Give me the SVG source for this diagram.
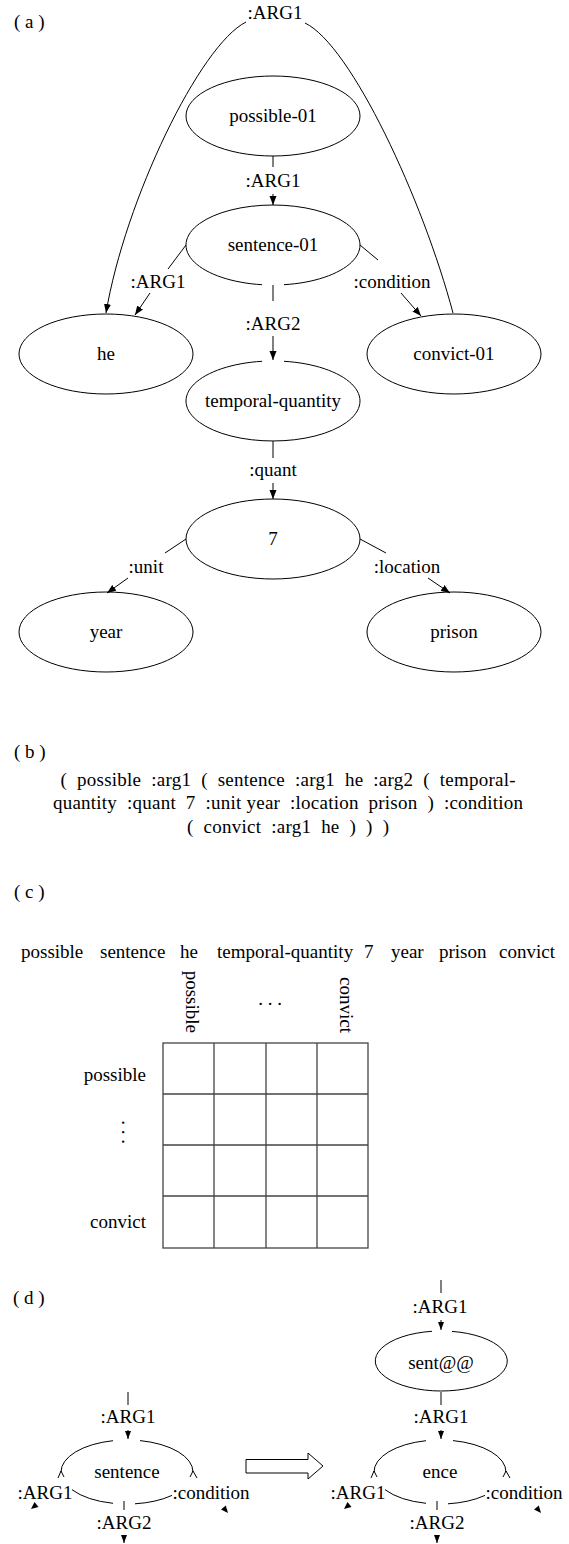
<svg xmlns="http://www.w3.org/2000/svg" width="569" height="1544" viewBox="0 0 569 1544" font-family="'Liberation Serif', serif">
<style>
text{font-family:"Liberation Serif","DejaVu Serif",serif;font-size:19px;fill:#000}
.m{text-anchor:middle}
.e{text-anchor:end}
.nd{fill:none;stroke:#000;stroke-width:1}
.ed{fill:none;stroke:#000;stroke-width:1}
.grid{fill:none;stroke:#444;stroke-width:1.3}
</style>
<defs>
<marker id="ah" markerWidth="10" markerHeight="8" refX="9" refY="4" orient="auto" markerUnits="userSpaceOnUse"><path d="M0,0.5 L9,4 L0,7.5 z" fill="#000"/></marker>
<marker id="as" markerWidth="9" markerHeight="7" refX="8" refY="3.5" orient="auto" markerUnits="userSpaceOnUse"><path d="M0,0.5 L8,3.5 L0,6.5 z" fill="#000"/></marker>
</defs>
<rect width="569" height="1544" fill="#fff"/>

<!-- (a) -->
<text x="14" y="28">( a )</text>
<g id="node-possible-01"><ellipse class="nd" cx="273" cy="116" rx="87" ry="40"/><text class="m" x="273" y="122">possible-01</text></g>
<g id="node-sentence-01"><path class="nd" d="M284,284.7 A87 40 0 1 0 262,284.7"/><text class="m" x="273" y="251">sentence-01</text></g>
<g id="node-he"><ellipse class="nd" cx="106" cy="354" rx="87" ry="40"/><text class="m" x="106" y="360">he</text></g>
<g id="node-convict-01"><ellipse class="nd" cx="454" cy="354" rx="87" ry="40"/><text class="m" x="454" y="360">convict-01</text></g>
<g id="node-temporal-quantity"><path class="nd" d="M284,361.3 A87 40 0 1 1 262,361.3"/><text class="m" x="273" y="407">temporal-quantity</text></g>
<g id="node-7"><ellipse class="nd" cx="273" cy="539" rx="87" ry="40"/><text class="m" x="273" y="545">7</text></g>
<g id="node-year"><ellipse class="nd" cx="106" cy="632" rx="87" ry="40"/><text class="m" x="106" y="638">year</text></g>
<g id="node-prison"><ellipse class="nd" cx="454" cy="632" rx="87" ry="40"/><text class="m" x="454" y="638">prison</text></g>

<g id="connectors-a">
<path class="ed" d="M246,22 C200,45 125,200 106,313" marker-end="url(#ah)"/>
<path class="ed" d="M453,313 C423,200 351,45 305,23"/>
<text class="m" x="275" y="19">:ARG1</text>
<line class="ed" x1="273" y1="156" x2="273" y2="167"/>
<text class="m" x="273" y="187">:ARG1</text>
<line class="ed" x1="273" y1="194" x2="273" y2="205" marker-end="url(#ah)"/>
<line class="ed" x1="186" y1="245" x2="168" y2="269"/>
<text class="m" x="158" y="288">:ARG1</text>
<line class="ed" x1="150" y1="293" x2="135" y2="315" marker-end="url(#ah)"/>
<line class="ed" x1="360" y1="245" x2="378" y2="260"/>
<text class="m" x="392" y="288">:condition</text>
<line class="ed" x1="401" y1="293" x2="421" y2="316" marker-end="url(#ah)"/>
<line class="ed" x1="273" y1="285" x2="273" y2="301"/>
<text class="m" x="273" y="330">:ARG2</text>
<line class="ed" x1="273" y1="336" x2="273" y2="360" marker-end="url(#ah)"/>
<line class="ed" x1="273" y1="441" x2="273" y2="458"/>
<text class="m" x="273" y="476">:quant</text>
<line class="ed" x1="273" y1="483" x2="273" y2="499" marker-end="url(#ah)"/>
<line class="ed" x1="186" y1="539" x2="165" y2="553"/>
<text class="m" x="146" y="573">:unit</text>
<line class="ed" x1="128" y1="578" x2="107" y2="593" marker-end="url(#ah)"/>
<line class="ed" x1="360" y1="539" x2="386" y2="553"/>
<text class="m" x="407" y="573">:location</text>
<line class="ed" x1="428" y1="578" x2="450" y2="593" marker-end="url(#ah)"/>
</g>

<!-- (b) -->
<g id="part-b">
<text x="14" y="758">( b )</text>
<text class="m" x="288" y="786" xml:space="preserve" textLength="455" lengthAdjust="spacing">(  possible  :arg1  (  sentence  :arg1  he  :arg2  (  temporal-</text>
<text class="m" x="288" y="809" xml:space="preserve" textLength="470" lengthAdjust="spacing">quantity  :quant  7  :unit year  :location  prison  )  :condition</text>
<text class="m" x="288" y="833" xml:space="preserve" textLength="202" lengthAdjust="spacing">(  convict  :arg1  he  )  )  )</text>
</g>

<!-- (c) -->
<g id="part-c">
<text x="14" y="898">( c )</text>
<text y="958"><tspan x="21">possible</tspan><tspan x="100">sentence</tspan><tspan x="180">he</tspan><tspan x="217">temporal-quantity</tspan><tspan x="364">7</tspan><tspan x="391">year</tspan><tspan x="439">prison</tspan><tspan x="499">convict</tspan></text>
<text class="e" transform="translate(186,1033) rotate(90)" x="0" y="0">possible</text>
<text class="e" transform="translate(340,1033) rotate(90)" x="0" y="0">convict</text>
<text class="m" x="270" y="1005">. . .</text>
<text class="m" transform="translate(122,1132) rotate(90)" x="0" y="0">. . .</text>
<rect class="grid" x="163" y="1043" width="205" height="205"/>
<path class="grid" d="M214,1043 V1248 M266,1043 V1248 M317,1043 V1248 M163,1094 H368 M163,1145 H368 M163,1196 H368"/>
<text class="e" x="146" y="1081">possible</text>
<text class="e" x="146" y="1228">convict</text>
</g>

<!-- (d) -->
<text x="13" y="1304">( d )</text>
<g id="node-sentence-d">
<path class="nd" d="M61,1472 A66 32 0 0 1 113,1440.7 M140,1440.6 A66 32 0 0 1 193,1472 M72,1489.7 A66 32 0 0 0 113,1503.3 M135,1503.8 A66 32 0 0 0 172,1495.4"/>
<path class="nd" d="M58,1478 L61,1471 L64,1477 M190,1477 L193,1471 L197,1478"/>
<text class="m" x="127" y="1478">sentence</text>
</g>
<g id="node-sent-at">
<path class="nd" d="M452,1331.4 A66 30 0 1 1 432,1331.3"/>
<text class="m" x="441" y="1369">sent@@</text>
</g>
<g id="node-ence" transform="translate(313,0)">
<path class="nd" d="M61,1472 A66 32 0 0 1 113,1440.7 M140,1440.6 A66 32 0 0 1 193,1472 M72,1489.7 A66 32 0 0 0 113,1503.3 M135,1503.8 A66 32 0 0 0 172,1495.4"/>
<path class="nd" d="M58,1478 L61,1471 L64,1477 M190,1477 L193,1471 L197,1478"/>
<text class="m" x="127" y="1478">ence</text>
</g>
<g id="arrow-d">
<path d="M246,1459.5 L308,1459.5 L308,1453 L323,1466 L308,1479 L308,1473 L246,1473 Z" fill="#fff" stroke="#000" stroke-width="1"/>
</g>
<g id="connectors-d">
<line class="ed" x1="128" y1="1392" x2="128" y2="1405"/>
<text class="m" x="128" y="1423">:ARG1</text>
<line class="ed" x1="128" y1="1430" x2="128" y2="1439" marker-end="url(#as)"/>
<text class="m" x="45" y="1499">:ARG1</text>
<path d="M31,1509 L34.5,1502 L38.5,1507 Z" fill="#000"/>
<text class="m" x="211" y="1499">:condition</text>
<path d="M228,1513 L221,1509.6 L225.8,1505.5 Z" fill="#000"/>
<line class="ed" x1="124" y1="1501" x2="124" y2="1510"/>
<text class="m" x="124" y="1529">:ARG2</text>
<line class="ed" x1="124" y1="1535" x2="124" y2="1543" marker-end="url(#as)"/>

<line class="ed" x1="441" y1="1280" x2="441" y2="1293"/>
<text class="m" x="440" y="1313">:ARG1</text>
<line class="ed" x1="441" y1="1320" x2="441" y2="1330" marker-end="url(#as)"/>
<line class="ed" x1="441" y1="1392" x2="441" y2="1405"/>
<text class="m" x="441" y="1423">:ARG1</text>
<line class="ed" x1="441" y1="1430" x2="441" y2="1439" marker-end="url(#as)"/>
<text class="m" x="358" y="1499">:ARG1</text>
<path d="M344,1509 L347.5,1502 L351.5,1507 Z" fill="#000"/>
<text class="m" x="524" y="1499">:condition</text>
<path d="M541,1513 L534,1509.6 L538.8,1505.5 Z" fill="#000"/>
<line class="ed" x1="437" y1="1501" x2="437" y2="1510"/>
<text class="m" x="437" y="1529">:ARG2</text>
<line class="ed" x1="437" y1="1535" x2="437" y2="1543" marker-end="url(#as)"/>
</g>
</svg>
